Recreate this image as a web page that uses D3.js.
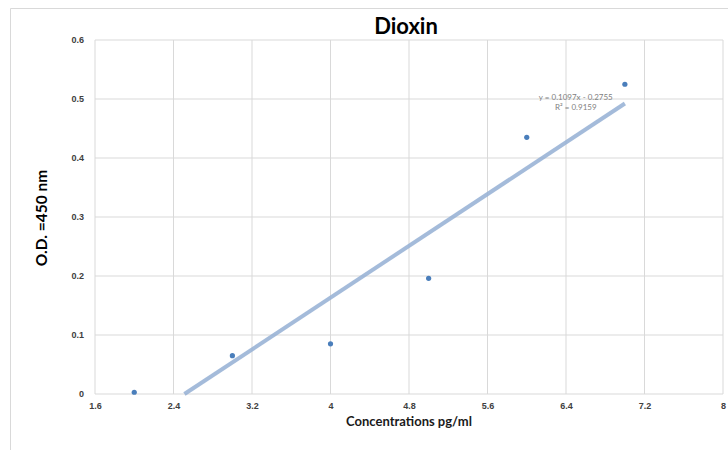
<!DOCTYPE html>
<html>
<head>
<meta charset="utf-8">
<script src="https://cdn.jsdelivr.net/npm/d3@7"></script>
<style>
  body { margin: 0; background: #fff; }
  svg { display: block; font-family: Lato, "Open Sans", sans-serif; }
  .tick text { font-size: 9px; font-weight: bold; fill: #404040; }
</style>
</head>
<body>
<svg id="chart" width="728" height="450"></svg>
<script>
// data
var concentrations = [2, 3, 4, 5, 6, 7];
var odValues = [0.003, 0.065, 0.085, 0.196, 0.435, 0.525];
var xTicks = [1.6, 2.4, 3.2, 4, 4.8, 5.6, 6.4, 7.2, 8];
var yTicks = [0, 0.1, 0.2, 0.3, 0.4, 0.5, 0.6];
var slope = 0.1097, intercept = -0.2755, rSquared = 0.9159;

var svg = d3.select("#chart"),
    margin = {top: 40, right: 5, bottom: 56, left: 95},
    width = 728 - margin.left - margin.right,
    height = 450 - margin.top - margin.bottom;

// outer chart frame (right/bottom cut off)
svg.append("path")
    .attr("d", "M10.5,450 V8.5 H728")
    .attr("fill", "none")
    .attr("stroke", "#d9d9d9");

var g = svg.append("g")
    .attr("transform", "translate(" + margin.left + "," + margin.top + ")");

var x = d3.scaleLinear().domain([1.6, 8]).range([0, 628]);
var y = d3.scaleLinear().domain([0, 0.6]).range([354, 0]);

// gridlines
g.append("g").selectAll("line.v")
    .data(xTicks)
    .enter().append("line")
    .attr("x1", d => x(d)).attr("x2", d => x(d))
    .attr("y1", 0).attr("y2", y(0))
    .attr("stroke", "#d9d9d9");

g.append("g").selectAll("line.h")
    .data(yTicks)
    .enter().append("line")
    .attr("x1", 0).attr("x2", x(8))
    .attr("y1", d => y(d)).attr("y2", d => y(d))
    .attr("stroke", "#d9d9d9");

// axes (labels only)
g.append("g")
    .attr("transform", "translate(0," + (y(0) + 4) + ")")
    .call(d3.axisBottom(x).tickValues(xTicks).tickSize(0).tickFormat(d3.format("")))
    .call(a => a.select(".domain").remove())
    .selectAll("text").attr("dy", "0.9em");

g.append("g")
    .attr("transform", "translate(-8,0)")
    .call(d3.axisLeft(y).tickValues(yTicks).tickSize(0).tickFormat(d3.format("")))
    .call(a => a.select(".domain").remove());

// linear trendline, clipped at y = 0
var xStart = -intercept / slope, xEnd = 7;
g.append("line")
    .attr("x1", x(xStart)).attr("y1", y(slope * xStart + intercept))
    .attr("x2", x(xEnd)).attr("y2", y(slope * xEnd + intercept))
    .attr("stroke", "#94afd4")
    .attr("stroke-opacity", 0.85)
    .attr("stroke-width", 4)
    .attr("stroke-linecap", "butt");

// points
g.append("g").selectAll("circle")
    .data(concentrations)
    .enter().append("circle")
    .attr("cx", (d, i) => x(d))
    .attr("cy", (d, i) => y(odValues[i]))
    .attr("r", 2.6)
    .attr("fill", "#4a7ebb");

// trendline equation
var eq = g.append("text")
    .attr("text-anchor", "middle")
    .attr("font-size", "8px")
    .attr("fill", "#7f7f7f");
eq.append("tspan")
    .attr("x", x(6.5)).attr("y", y(0.498))
    .text("y = " + slope + "x - " + Math.abs(intercept));
eq.append("tspan")
    .attr("x", x(6.5)).attr("y", y(0.481))
    .text("R² = " + rSquared);

// titles
svg.append("text")
    .attr("x", 406).attr("y", 34)
    .attr("text-anchor", "middle")
    .attr("font-size", "22px").attr("font-weight", "bold")
    .attr("fill", "#000")
    .text("Dioxin");

svg.append("text")
    .attr("x", 409).attr("y", 426)
    .attr("text-anchor", "middle")
    .attr("font-size", "13px").attr("font-weight", "bold")
    .attr("fill", "#1a1a1a")
    .text("Concentrations pg/ml");

svg.append("text")
    .attr("transform", "translate(47,218) rotate(-90)")
    .attr("text-anchor", "middle")
    .attr("font-size", "15.5px").attr("font-weight", "bold")
    .attr("fill", "#000")
    .text("O.D. =450 nm");
</script>
</body>
</html>
